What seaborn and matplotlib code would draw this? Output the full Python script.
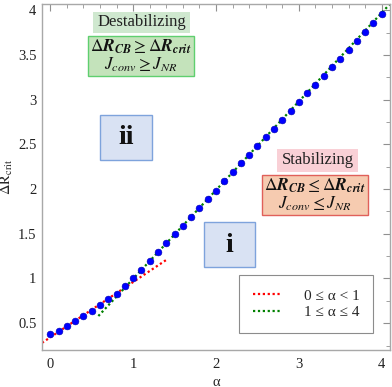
import matplotlib
matplotlib.use("Agg")
import matplotlib.pyplot as plt
import seaborn as sns
import numpy as np
from matplotlib.patches import Rectangle
from matplotlib.ticker import MultipleLocator

alpha = [0.0, 0.1, 0.2, 0.3, 0.4, 0.5, 0.6, 0.7, 0.8, 0.9,
         1.0, 1.1, 1.2, 1.3, 1.4, 1.5, 1.6, 1.7, 1.8, 1.9,
         2.0, 2.1, 2.2, 2.3, 2.4, 2.5, 2.6, 2.7, 2.8, 2.9,
         3.0, 3.1, 3.2, 3.3, 3.4, 3.5, 3.6, 3.7, 3.8, 3.9, 4.0]
dr_crit = [0.376, 0.418, 0.470, 0.520, 0.578, 0.638, 0.700, 0.766, 0.830, 0.912,
           1.002, 1.100, 1.198, 1.295, 1.395, 1.494, 1.592, 1.690, 1.786, 1.885,
           1.984, 2.088, 2.190, 2.288, 2.384, 2.480, 2.580, 2.676, 2.776, 2.874,
           2.970, 3.070, 3.168, 3.264, 3.362, 3.460, 3.560, 3.660, 3.758, 3.856, 3.955]

fit_low_x = [-0.1, 1.42]
fit_low_y = [0.28, 1.22]
fit_high_x = [0.58, 4.2]
fit_high_y = [0.58, 4.17]

legend_labels = ["0 ≤ α < 1", "1 ≤ α ≤ 4"]

sns.set_theme(style="white")
plt.rcParams['font.family'] = ['Liberation Serif', 'DejaVu Serif']
plt.rcParams['mathtext.fontset'] = 'stix'

W, H = 392, 387
fig = plt.figure(figsize=(W / 100, H / 100), dpi=100)
ax = fig.add_axes([42 / W, 1 - 350 / H, 348 / W, 346 / H])

sns.lineplot(x=fit_low_x, y=fit_low_y, ax=ax, color='#ff0000', linewidth=1.6,
             linestyle=(0, (1, 1.2)), label=legend_labels[0], zorder=2)
sns.lineplot(x=fit_high_x, y=fit_high_y, ax=ax, color='#008000', linewidth=1.6,
             linestyle=(0, (1, 1.2)), label=legend_labels[1], zorder=2)
sns.scatterplot(x=alpha, y=dr_crit, ax=ax, color='#0000ff', s=24,
                edgecolor='#0000b0', linewidth=0.4, zorder=3)

ax.set_xlim(-0.1, 4.1)
ax.set_ylim(0.2, 4.07)
ax.xaxis.set_major_locator(MultipleLocator(1))
ax.xaxis.set_minor_locator(MultipleLocator(0.2))
ax.yaxis.set_major_locator(MultipleLocator(0.5))
ax.yaxis.set_minor_locator(MultipleLocator(0.25))
ax.set_yticks([0.5, 1, 1.5, 2, 2.5, 3, 3.5, 4])
ax.set_yticklabels(['0.5', '1', '1.5', '2', '2.5', '3', '3.5', '4'])
ax.set_xticks([0, 1, 2, 3, 4])
ax.set_xticklabels(['0', '1', '2', '3', '4'])

for s in ax.spines.values():
    s.set_color('#a8a8a8')
    s.set_linewidth(1.0)
ax.tick_params(which='both', direction='in', top=True, right=True,
               color='#909090', labelsize=10.5, labelcolor='#222222')
ax.tick_params(which='major', length=5, width=0.8)
ax.tick_params(axis='x', which='major', pad=6)
ax.tick_params(axis='y', which='major', pad=4)
ax.tick_params(which='minor', length=3, width=0.6)

ax.set_xlabel('α', fontsize=10.5, labelpad=3)
ax.set_ylabel(r'$\Delta\mathrm{R}_{\mathrm{crit}}$', fontsize=10.5, labelpad=2)

leg = ax.legend(loc='lower right', bbox_to_anchor=((373 - 42) / 348, (350 - 333) / 346),
                frameon=True, fancybox=False, fontsize=11, handlelength=1.8,
                borderpad=0.9, labelspacing=0.2, handletextpad=1.5, borderaxespad=0)
leg.get_frame().set_edgecolor('#707070')
leg.get_frame().set_linewidth(0.8)


def box(x0, y0, x1, y1, fc, ec, lw=1.0):
    r = Rectangle((x0 / W, 1 - y1 / H), (x1 - x0) / W, (y1 - y0) / H,
                  transform=fig.transFigure, facecolor=fc, edgecolor=ec, linewidth=lw,
                  zorder=5)
    fig.add_artist(r)


def ftext(x, y, s, **kw):
    fig.text(x / W, 1 - y / H, s, ha='center', va='center', zorder=6, **kw)


box(93, 12, 190, 33, '#cfe8cf', 'none', 0)
ftext(141.5, 22, 'Destabilizing', fontsize=12, color='#222222')
box(88, 36, 194, 76, '#c4e3bb', '#5fcf6f', 1.0)
ftext(141, 47, r'$\Delta\mathbfit{R}_{\mathbfit{CB}}\geq\Delta\mathbfit{R}_{\mathbfit{crit}}$',
      fontsize=12.5, color='#111111')
ftext(141, 65, r'$J_{conv}\geq J_{NR}$', fontsize=12.5, color='#111111')

box(100, 115, 152, 160, '#d9e2f3', '#7ea3dc', 1.0)
ftext(126, 138, 'ii', fontsize=20, fontweight='bold', color='#111111')

box(277, 149, 358, 172, '#f9d0d6', 'none', 0)
ftext(317.5, 160, 'Stabilizing', fontsize=12, color='#222222')
box(262, 175, 368, 215, '#f6cbb0', '#e0605a', 1.0)
ftext(315, 186, r'$\Delta\mathbfit{R}_{\mathbfit{CB}}\leq\Delta\mathbfit{R}_{\mathbfit{crit}}$',
      fontsize=12.5, color='#111111')
ftext(315, 204, r'$J_{conv}\leq J_{NR}$', fontsize=12.5, color='#111111')

box(204, 222, 255, 267, '#d9e2f3', '#7ea3dc', 1.0)
ftext(229.5, 245, 'i', fontsize=20, fontweight='bold', color='#111111')

fig.savefig('out.png', dpi=100)
